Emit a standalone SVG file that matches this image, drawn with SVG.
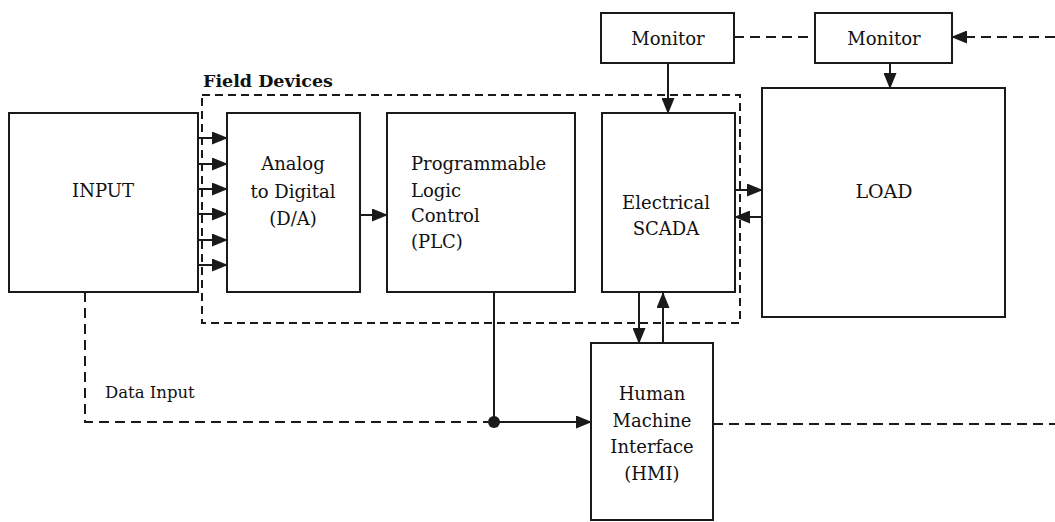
<svg xmlns="http://www.w3.org/2000/svg" width="1055" height="522" viewBox="0 0 1055 522">
<style>
.box{fill:#fff;stroke:#1a1a1a;stroke-width:2}
.t{font-family:"DejaVu Serif","Liberation Serif",serif;font-size:18px;fill:#111}
.c{text-anchor:middle}
.ln{fill:none;stroke:#1a1a1a;stroke-width:2}
.dash{fill:none;stroke:#1a1a1a;stroke-width:2;stroke-dasharray:10 6}
.dash2{fill:none;stroke:#1a1a1a;stroke-width:2;stroke-dasharray:8 5}
</style>
<defs>
<marker id="ah" markerUnits="userSpaceOnUse" markerWidth="16" markerHeight="13" refX="15" refY="6.5" orient="auto">
<path d="M0,0 L16,6.5 L0,13 z" fill="#1a1a1a"/>
</marker>
</defs>
<rect width="1055" height="522" fill="#fff"/>
<g id="field-devices">
<rect x="202" y="95" width="538" height="228" class="dash2"/>
<text x="203" y="87" class="t" style="font-weight:bold;font-size:17.5px">Field Devices</text>
</g>
<g id="input">
<rect x="9" y="113" width="189" height="179" class="box"/>
<text x="103" y="197" class="t c">INPUT</text>
</g>
<g id="adc">
<rect x="227" y="113" width="133" height="179" class="box"/>
<text x="293" y="170" class="t c">Analog</text>
<text x="293" y="198" class="t c">to Digital</text>
<text x="293" y="225" class="t c">(D/A)</text>
</g>
<g id="plc">
<rect x="387" y="113" width="188" height="179" class="box"/>
<text x="411" y="170" class="t">Programmable</text>
<text x="411" y="197" class="t">Logic</text>
<text x="411" y="222" class="t">Control</text>
<text x="411" y="248" class="t">(PLC)</text>
</g>
<g id="scada">
<rect x="602" y="113" width="133" height="179" class="box"/>
<text x="666" y="209" class="t c">Electrical</text>
<text x="666" y="235" class="t c">SCADA</text>
</g>
<g id="monitor1">
<rect x="601" y="13" width="133" height="50" class="box"/>
<text x="668" y="45" class="t c">Monitor</text>
</g>
<g id="monitor2">
<rect x="815" y="13" width="137" height="50" class="box"/>
<text x="884" y="45" class="t c">Monitor</text>
</g>
<g id="load">
<rect x="762" y="88" width="243" height="229" class="box"/>
<text x="884" y="198" class="t c" style="font-size:19px">LOAD</text>
</g>
<g id="hmi">
<rect x="591" y="343" width="122" height="177" class="box"/>
<text x="652" y="400" class="t c">Human</text>
<text x="652" y="427" class="t c">Machine</text>
<text x="652" y="453" class="t c">Interface</text>
<text x="652" y="480" class="t c">(HMI)</text>
</g>
<g id="data-input-label">
<text x="105" y="398" class="t" style="font-size:16.5px">Data Input</text>
</g>
<g id="connectors">
<line x1="198" y1="138" x2="227" y2="138" class="ln" marker-end="url(#ah)"/>
<line x1="198" y1="164" x2="227" y2="164" class="ln" marker-end="url(#ah)"/>
<line x1="198" y1="189" x2="227" y2="189" class="ln" marker-end="url(#ah)"/>
<line x1="198" y1="214" x2="227" y2="214" class="ln" marker-end="url(#ah)"/>
<line x1="198" y1="240" x2="227" y2="240" class="ln" marker-end="url(#ah)"/>
<line x1="198" y1="265" x2="227" y2="265" class="ln" marker-end="url(#ah)"/>
<line x1="360" y1="215" x2="387" y2="215" class="ln" marker-end="url(#ah)"/>
<line x1="668" y1="63" x2="668" y2="113" class="ln" marker-end="url(#ah)"/>
<line x1="890" y1="63" x2="890" y2="88" class="ln" marker-end="url(#ah)"/>
<line x1="734" y1="37" x2="815" y2="37" class="dash"/>
<line x1="1055" y1="37" x2="952" y2="37" class="dash" marker-end="url(#ah)"/>
<line x1="735" y1="190" x2="762" y2="190" class="ln" marker-end="url(#ah)"/>
<line x1="762" y1="217" x2="735" y2="217" class="ln" marker-end="url(#ah)"/>
<line x1="639" y1="293" x2="639" y2="343" class="ln" marker-end="url(#ah)"/>
<line x1="663" y1="343" x2="663" y2="293" class="ln" marker-end="url(#ah)"/>
<polyline points="494,293 494,422" class="ln"/>
<circle cx="494" cy="422" r="6" fill="#1a1a1a"/>
<line x1="494" y1="422" x2="591" y2="422" class="ln" marker-end="url(#ah)"/>
<polyline points="85,292 85,422 488,422" class="dash"/>
<line x1="713" y1="424" x2="1055" y2="424" class="dash"/>
</g>
</svg>
